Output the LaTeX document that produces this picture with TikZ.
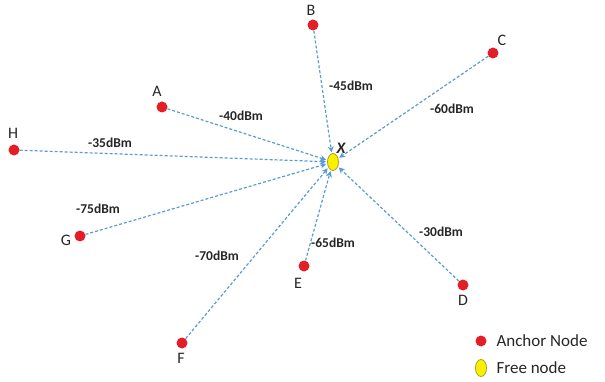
\documentclass[tikz,border=0pt]{standalone}
\usepackage{fontspec}
\setmainfont{Carlito}
\usetikzlibrary{arrows.meta,shapes.geometric}
\definecolor{anchorred}{RGB}{228,30,38}
\definecolor{linkblue}{RGB}{91,155,213}
\definecolor{freeyellow}{RGB}{250,240,0}
\definecolor{freeedge}{RGB}{170,160,40}
\tikzset{
  anchor dot/.style={circle,fill=anchorred,inner sep=0pt,minimum size=11pt},
  free dot/.style={ellipse,fill=freeyellow,draw=freeedge,line width=0.8pt,inner sep=0pt,minimum width=11pt,minimum height=17pt},
  letter/.style={font=\fontsize{16}{16}\selectfont,text=black!85},
  dbm/.style={font=\fontsize{13.5}{13.5}\selectfont\bfseries,text=black!85},
  legendtext/.style={font=\fontsize{17}{17}\selectfont,text=black!85,anchor=west},
  link/.style={linkblue,line width=1.2pt,dash pattern=on 3pt off 2pt,-{Stealth[length=6pt,width=6pt]},shorten >=1pt}
}
\begin{document}
\begin{tikzpicture}[x=1pt,y=-1pt]
\useasboundingbox (0,0) rectangle (605,382);
\node[free dot] (X) at (333,162) {};
\node[text=black!85,font=\fontsize{16}{16}\selectfont\bfseries\itshape] (Xl) at (341,148) {X};
\node[anchor dot] (A) at (162,107) {};
\node[anchor dot] (B) at (313,25) {};
\node[anchor dot] (C) at (493,53) {};
\node[anchor dot] (D) at (463,285) {};
\node[anchor dot] (E) at (304,266) {};
\node[anchor dot] (F) at (182,343) {};
\node[anchor dot] (G) at (80,236) {};
\node[anchor dot] (H) at (14,150) {};
\node[letter] (Al) at (157,91) {A};
\node[letter] (Bl) at (311,10) {B};
\node[letter] (Cl) at (502,40) {C};
\node[letter] (Dl) at (463,300) {D};
\node[letter] (El) at (298,283) {E};
\node[letter] (Fl) at (181,358) {F};
\node[letter] (Gl) at (66,240) {G};
\node[letter] (Hl) at (13,133) {H};
\foreach \n in {A,B,C,D,E,F,G,H} \draw[link] (\n) -- (X);
\node[dbm] (lA) at (241,116) {-40dBm};
\node[dbm] (lB) at (351,86) {-45dBm};
\node[dbm] (lC) at (452,109) {-60dBm};
\node[dbm] (lH) at (110,143) {-35dBm};
\node[dbm] (lG) at (98,209) {-75dBm};
\node[dbm] (lF) at (217,256) {-70dBm};
\node[dbm] (lE) at (333,243) {-65dBm};
\node[dbm] (lD) at (441,232) {-30dBm};
\node[anchor dot] (LA) at (481,341) {};
\node[legendtext] (LAt) at (493,341) {Anchor Node};
\node[free dot] (LF) at (481,368) {};
\node[legendtext] (LFt) at (493,368) {Free node};
\end{tikzpicture}
\end{document}
